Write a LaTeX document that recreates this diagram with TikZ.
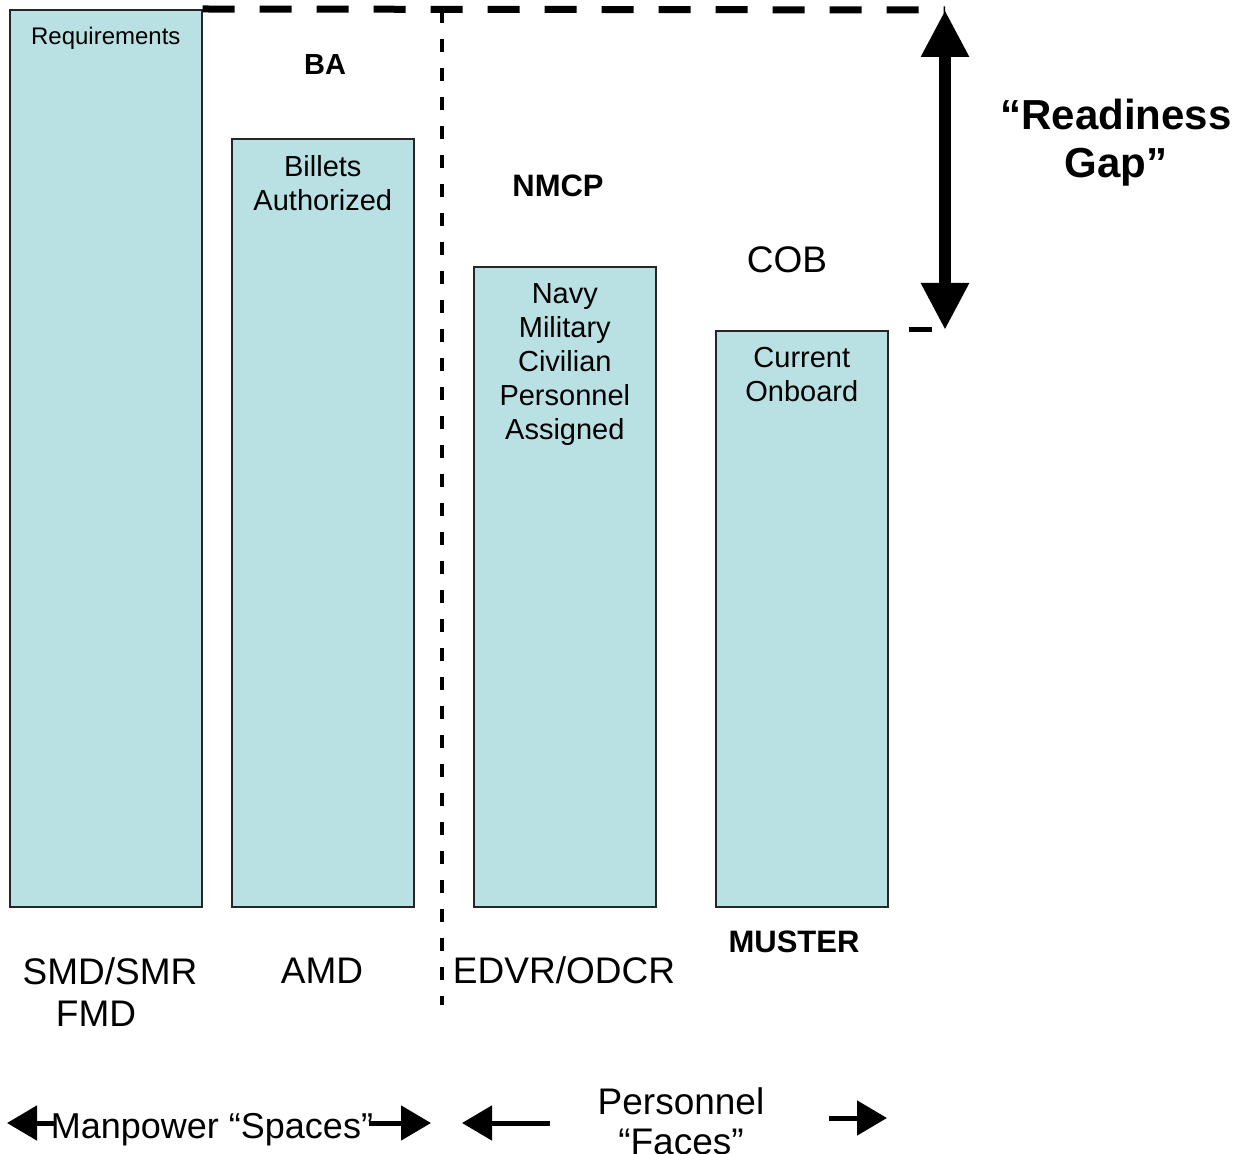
\documentclass[tikz,border=0pt]{standalone}
\usepackage{fontspec}
\setmainfont{Liberation Sans}
\usetikzlibrary{arrows.meta,positioning}
\definecolor{barfill}{RGB}{185,224,226}
\tikzset{
	bar/.style = {draw=black!85, line width=0.8pt, fill=barfill, anchor=north west, inner sep=0pt},
	bartext/.style = {align=center, inner sep=0pt, font=\fontsize{14.5}{17}\selectfont},
	tag/.style = {inner sep=0pt, anchor=base, font=\bfseries\fontsize{15.5}{18}\selectfont},
	src/.style = {inner sep=0pt, anchor=base, align=center, font=\fontsize{18.5}{21}\selectfont},
	gapline/.style = {line width=3.5pt, dash pattern=on 16pt off 12.5pt},
	split/.style = {line width=2pt, dash pattern=on 6.5pt off 8pt},
	fat/.style = {line width=2.5pt, -{Triangle[length=15pt,width=17pt]}}
}

\begin{document}
\begin{tikzpicture}[x=0.5pt, y=-0.5pt]
	\useasboundingbox (0,0) rectangle (1247,1154);
	% the four bars
	\node[bar, minimum width=96pt, minimum height=448.5pt] (req) at (9,9) {};
	\node[bar, minimum width=91pt, minimum height=384pt] (ba) at (231,138) {};
	\node[bar, minimum width=91pt, minimum height=320pt] (nmcp) at (473,266) {};
	\node[bar, minimum width=86pt, minimum height=288pt] (cob) at (715,330) {};
	\node[bartext, font=\fontsize{12}{14}\selectfont, below=9pt of req.north] (reqtxt) {Requirements};
	\node[bartext, below=8.5pt of ba.north] (batxt) {Billets\\Authorized};
	\node[bartext, below=8.5pt of nmcp.north] (nmcptxt) {Navy\\Military\\Civilian\\Personnel\\Assigned};
	\node[bartext, below=8.5pt of cob.north] (cobtxt) {Current\\Onboard};
	% labels
	\node[tag, font=\bfseries\fontsize{14.5}{17}\selectfont] (batag) at (325,75) {BA};
	\node[tag] (nmcptag) at (558,197) {NMCP};
	\node[src] (cobtag) at (787,273) {COB};
	\node[tag] (mustertag) at (794,952) {MUSTER};
	\node[src, anchor=north] (smd) at (110,957) {SMD/SMR\\FMD\hspace*{14pt}};
	\node[src] (amd) at (322,983) {AMD};
	\node[src] (edvr) at (564,983) {EDVR/ODCR};
	% readiness gap
	\coordinate (gaptop) at (945,10);
	\coordinate (gapbot) at (945,330);
	\coordinate (splittop) at (442,10);
	\coordinate (splitbot) at (442,1005);
	\draw[gapline] (req.north east) -- (gaptop);
	\draw[split] (splittop) -- (splitbot);
	\draw[line width=2.5pt, dash pattern=on 0pt off 10pt on 11.5pt off 30pt] (cob.north east) -- (gapbot);
	\draw[line width=6pt, {Triangle[length=23.5pt,width=22.5pt]}-{Triangle[length=23.5pt,width=22.5pt]}] (gaptop) -- (gapbot);
	\node[inner sep=0pt, align=center, anchor=north, font=\bfseries\fontsize{21}{24}\selectfont] (gap) at (1116,99) {“Readiness\\Gap”};
	% spaces and faces
	\node[inner sep=0pt, anchor=base, font=\fontsize{18}{20}\selectfont] (spaces) at (212,1138) {Manpower “Spaces”};
	\node[inner sep=0pt, align=center, anchor=north, font=\fontsize{18.5}{20}\selectfont] (faces) at (681,1087) {Personnel\\“Faces”};
	\coordinate (sl) at (7,1123);
	\coordinate (sr) at (431,1123);
	\coordinate (fl) at (462,1123);
	\coordinate (fr) at (887,1118);
	\draw[fat] (54,1123) -- (sl);
	\draw[fat] (369,1123) -- (sr);
	\draw[fat] (550,1123) -- (fl);
	\draw[fat] (829,1118) -- (fr);
\end{tikzpicture}
\end{document}
